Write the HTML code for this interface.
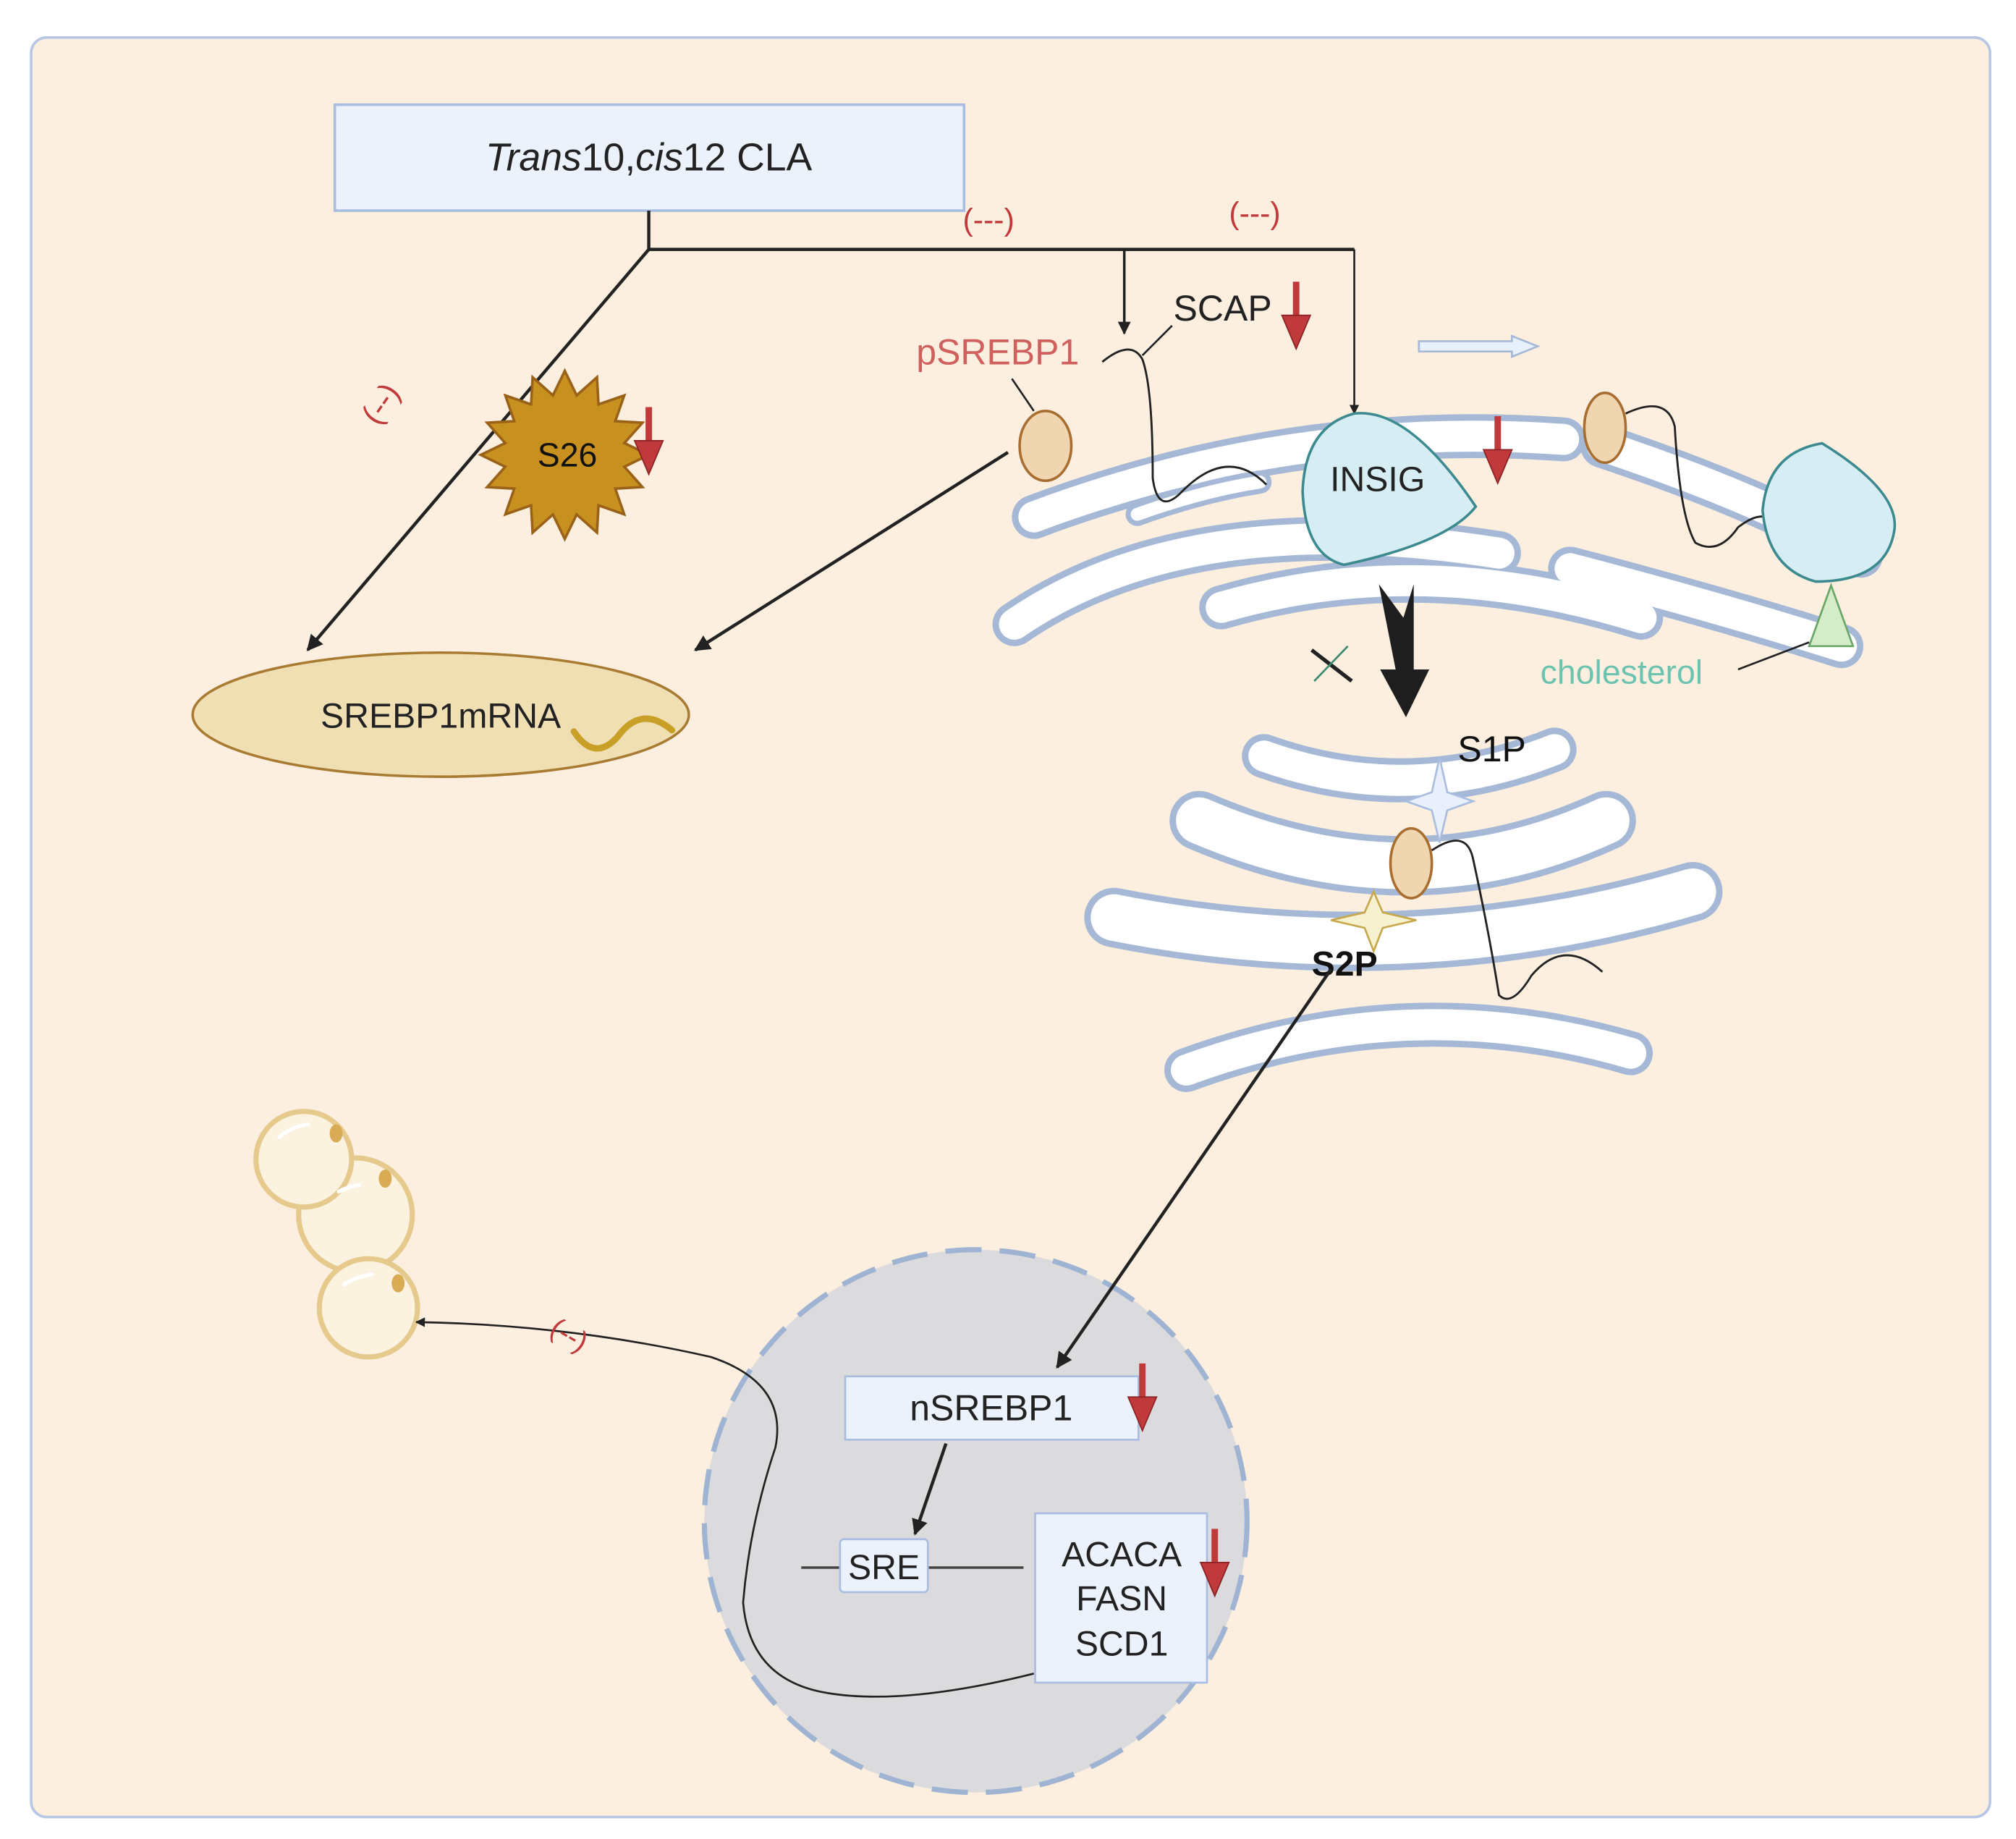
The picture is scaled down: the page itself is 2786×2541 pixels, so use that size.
<!DOCTYPE html>
<html><head><meta charset="utf-8"><style>
html,body{margin:0;padding:0;background:#fff;}
svg{display:block;}
text{font-family:"Liberation Sans",sans-serif;}
</style></head><body>
<svg width="2786" height="2541" viewBox="0 0 1560 1423" xmlns="http://www.w3.org/2000/svg">
<defs>
<marker id="ah" viewBox="0 0 10 10" refX="9" refY="5" markerWidth="5" markerHeight="5" orient="auto"><path d="M0,0 L10,5 L0,10 z" fill="#222"/></marker>
<g id="redarrow"><rect x="-2.5" y="0" width="5" height="28" fill="#c0393b"/><path d="M-11,26 L11,26 L0,52 z" fill="#c0393b" stroke="#8d2325" stroke-width="1"/></g>
</defs>
<rect x="0" y="0" width="1560" height="1423" fill="#fff"/>
<rect x="24" y="29" width="1516" height="1377" rx="12" fill="#fcefdf" stroke="#b6c6e4" stroke-width="2"/>

<rect x="259" y="81" width="487" height="82" fill="#ebf2fc" stroke="#a8bde0" stroke-width="2"/>
<text x="502" y="132" font-size="30" text-anchor="middle" fill="#222"><tspan font-style="italic">Trans</tspan>10,<tspan font-style="italic">cis</tspan>12 CLA</text>

<g stroke="#222" stroke-width="2.5" fill="none">
<line x1="502" y1="163" x2="502" y2="193"/>
<line x1="502" y1="193" x2="1048" y2="193"/>
<line x1="870" y1="193" x2="870" y2="258" marker-end="url(#ah)" stroke-width="2"/>
<line x1="1048" y1="193" x2="1048" y2="320" marker-end="url(#ah)" stroke-width="1.5"/>
<line x1="502" y1="193" x2="238" y2="503" marker-end="url(#ah)"/>
<line x1="780" y1="350" x2="538" y2="503" marker-end="url(#ah)"/>
</g>
<g fill="#c0393b" font-size="24">
<text x="745" y="178">(---)</text>
<text x="951" y="173">(---)</text>
</g>
<text x="0" y="0" font-size="24" fill="#c0393b" transform="translate(292,330) rotate(-55)">(--)</text>

<polygon fill="#c8901f" stroke="#9a6218" stroke-width="2" points="502,352 483.1,361.2 497.1,376.9 476.1,378.1 483,398 463.1,391.1 461.9,412.1 446.2,398.1 437,417 427.8,398.1 412.1,412.1 410.9,391.1 391,398 397.9,378.1 376.9,376.9 390.9,361.2 372,352 390.9,342.8 376.9,327.1 397.9,325.9 391,306 410.9,312.9 412.1,291.9 427.8,305.9 437,287 446.2,305.9 461.9,291.9 463.1,312.9 483,306 476.1,325.9 497.1,327.1 483.1,342.8"/>
<text x="439" y="361" font-size="26" text-anchor="middle" fill="#111">S26</text>
<use href="#redarrow" x="502" y="315"/>

<ellipse cx="341" cy="553" rx="192" ry="48" fill="#efdfb3" stroke="#a97b32" stroke-width="2"/>
<text x="341" y="563" font-size="27" text-anchor="middle" fill="#222">SREBP1mRNA</text>
<path d="M444,566 Q460,590 478,570 Q496,545 520,565" fill="none" stroke="#c8a028" stroke-width="5" stroke-linecap="round"/>

<!-- ER -->
<g fill="none" stroke-linecap="round">
<g stroke="#a5b8d6" stroke-width="34">
<path d="M800,400 Q1000,325 1210,340"/>
<path d="M785,483 Q920,390 1160,428"/>
<path d="M945,470 Q1100,425 1270,478"/>
<path d="M1215,440 Q1330,470 1425,500"/>
<path d="M1240,345 Q1360,385 1440,430"/>
</g>
<g stroke="#ffffff" stroke-width="24">
<path d="M800,400 Q1000,325 1210,340"/>
<path d="M785,483 Q920,390 1160,428"/>
<path d="M945,470 Q1100,425 1270,478"/>
<path d="M1215,440 Q1330,470 1425,500"/>
<path d="M1240,345 Q1360,385 1440,430"/>
</g>
<g stroke="#a5b8d6" stroke-width="18"><path d="M880,398 Q930,380 975,373"/></g>
<g stroke="#ffffff" stroke-width="10"><path d="M880,398 Q930,380 975,373"/></g>
</g>

<text x="709" y="282" font-size="28" fill="#d0605e">pSREBP1</text>
<text x="908" y="248" font-size="28" fill="#222">SCAP</text>
<use href="#redarrow" x="1003" y="218"/>
<line x1="783" y1="293" x2="800" y2="318" stroke="#222" stroke-width="1.5"/>
<ellipse cx="809" cy="345" rx="20" ry="27" fill="#efd6b0" stroke="#a86d30" stroke-width="2"/>
<path d="M853,280 Q875,262 884,278 Q892,300 892,370 Q896,400 915,380 Q950,345 980,375" fill="none" stroke="#222" stroke-width="1.6"/>
<line x1="884" y1="275" x2="907" y2="252" stroke="#222" stroke-width="1.5"/>

<path d="M1048,320 Q1090,315 1142,392 Q1120,420 1040,437 Q1010,430 1008,380 Q1010,330 1048,320 z" fill="#d6eef3" stroke="#3c8a90" stroke-width="2"/>
<text x="1066" y="380" font-size="27" text-anchor="middle" fill="#222">INSIG</text>
<use href="#redarrow" x="1159" y="322"/>
<ellipse cx="1242" cy="331" rx="16" ry="27" fill="#efd6b0" stroke="#a86d30" stroke-width="2"/>
<path d="M1258,320 Q1290,305 1296,330 Q1300,400 1312,420 Q1330,430 1345,408 Q1358,398 1366,400" fill="none" stroke="#222" stroke-width="1.6"/>
<path d="M1410,343 Q1470,380 1466,410 Q1460,450 1405,450 Q1368,440 1364,395 Q1368,350 1410,343 z" fill="#d6eef3" stroke="#3c8a90" stroke-width="2"/>
<polygon points="1417,453 1400,500 1434,500" fill="#d4ecc8" stroke="#6aa56a" stroke-width="1.5"/>
<text x="1192" y="529" font-size="26" fill="#6cc3b0">cholesterol</text>
<line x1="1345" y1="518" x2="1400" y2="497" stroke="#222" stroke-width="1.5"/>

<path d="M1098,264 L1170,264 L1170,260 L1190,268 L1170,276 L1170,272 L1098,272 z" fill="#e8f0fb" stroke="#a5b8d6" stroke-width="1.5"/>

<path d="M1067,452 L1086,478 L1094,452 L1094,518 L1106,518 L1088,555 L1068,518 L1080,518 z" fill="#1e1e1e"/>
<line x1="1015" y1="503" x2="1046" y2="527" stroke="#222" stroke-width="3"/>
<line x1="1043" y1="500" x2="1017" y2="527" stroke="#3b8a6e" stroke-width="1.5"/>

<g fill="none" stroke-linecap="round">
<g stroke="#a5b8d6">
<path d="M978,585 Q1090,625 1203,580" stroke-width="34"/>
<path d="M928,635 Q1090,705 1243,635" stroke-width="46"/>
<path d="M862,710 Q1090,755 1310,690" stroke-width="46"/>
<path d="M918,828 Q1090,765 1262,815" stroke-width="34"/>
</g>
<g stroke="#fff">
<path d="M978,585 Q1090,625 1203,580" stroke-width="24"/>
<path d="M928,635 Q1090,705 1243,635" stroke-width="36"/>
<path d="M862,710 Q1090,755 1310,690" stroke-width="36"/>
<path d="M918,828 Q1090,765 1262,815" stroke-width="24"/>
</g>
</g>
<text x="1128" y="589" font-size="28" fill="#111">S1P</text>
<path d="M1114,586 L1120,613 L1140,620 L1120,627 L1114,652 L1108,627 L1088,620 L1108,613 z" fill="#e9f0fb" stroke="#a8bde0" stroke-width="1.5"/>
<ellipse cx="1092" cy="668" rx="16" ry="27" fill="#efd6b0" stroke="#a86d30" stroke-width="2"/>
<path d="M1108,658 Q1135,640 1140,665 Q1152,720 1160,770 Q1170,780 1185,755 Q1210,725 1240,752" fill="none" stroke="#222" stroke-width="1.6"/>
<path d="M1063,690 L1070,706 L1096,712 L1070,718 L1063,736 L1056,718 L1030,712 L1056,706 z" fill="#f6f1cf" stroke="#c7a84c" stroke-width="1.5"/>
<text x="1015" y="755" font-size="27" font-weight="bold" fill="#111">S2P</text>

<g stroke="#e6c98c" stroke-width="4" fill="#fbf2df">
<circle cx="275" cy="940" r="44"/>
<circle cx="235" cy="897" r="37"/>
<circle cx="285" cy="1012" r="38"/>
</g>
<g fill="#d9ab55"><ellipse cx="260" cy="877" rx="5" ry="7"/><ellipse cx="298" cy="912" rx="5" ry="7"/><ellipse cx="308" cy="993" rx="5" ry="7"/></g>
<g stroke="#fff" stroke-width="3" stroke-linecap="round" fill="none"><path d="M216,880 Q225,872 238,870"/><path d="M262,922 Q270,918 278,917"/><path d="M266,994 Q275,988 288,986"/></g>

<circle cx="755" cy="1177" r="210" fill="#dbdbde" stroke="#9fb4d2" stroke-width="4" stroke-dasharray="28 14"/>
<line x1="1030" y1="750" x2="818" y2="1058" stroke="#222" stroke-width="2.5" marker-end="url(#ah)"/>
<path d="M800,1295 Q700,1320 640,1310 Q580,1300 575,1240 Q580,1180 600,1120 Q610,1070 550,1050 Q440,1025 322,1023" fill="none" stroke="#222" stroke-width="1.5" marker-end="url(#ah)"/>
<text x="0" y="0" font-size="22" fill="#c0393b" transform="translate(424,1032) rotate(30)">(--)</text>
<rect x="654" y="1065" width="227" height="49" fill="#ebf2fc" stroke="#a8bde0" stroke-width="1.5"/>
<text x="767" y="1099" font-size="28" text-anchor="middle" fill="#222">nSREBP1</text>
<use href="#redarrow" x="884" y="1055"/>
<line x1="732" y1="1117" x2="708" y2="1187" stroke="#222" stroke-width="2.5" marker-end="url(#ah)"/>
<line x1="620" y1="1213" x2="792" y2="1213" stroke="#444" stroke-width="2"/>
<rect x="650" y="1191" width="68" height="41" rx="3" fill="#ebf2fc" stroke="#a8bde0" stroke-width="1.5"/>
<text x="684" y="1222" font-size="27" text-anchor="middle" fill="#222">SRE</text>
<rect x="801" y="1171" width="133" height="131" fill="#ebf2fc" stroke="#a8bde0" stroke-width="1.5"/>
<g font-size="27" text-anchor="middle" fill="#222">
<text x="868" y="1212">ACACA</text>
<text x="868" y="1246">FASN</text>
<text x="868" y="1281">SCD1</text>
</g>
<use href="#redarrow" x="940" y="1183"/>
</svg>
</body></html>
